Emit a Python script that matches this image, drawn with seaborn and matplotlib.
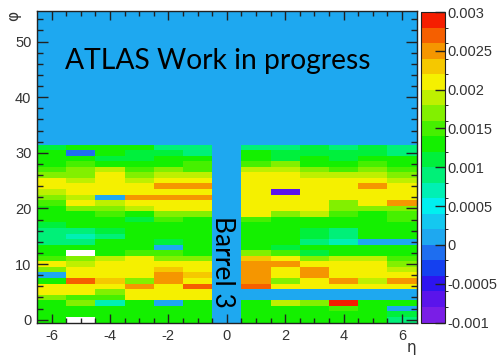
import numpy as np
import pandas as pd
import matplotlib
matplotlib.use("Agg")
import matplotlib.pyplot as plt
from matplotlib.colors import ListedColormap, BoundaryNorm
import seaborn as sns

# ---------------- data ----------------
eta = [-6, -5, -4, -3, -2, -1, 0, 1, 2, 3, 4, 5, 6]
n_phi_bins = 56          # histogram phi range 0..55
N = np.nan               # bins drawn white (outside colour range)

# values in units of 1e-4, rows phi = 0..31, columns eta = -6..6
values_e4 = [
    [13,  N, 13, 13, 13, 13, 0, 13, 13, 13, 13, 13,  9],   # phi 0
    [13, 13, 13, 13, 13, 13, 0, 13, 13, 13, 13, 13, 11],   # 1
    [13, 13, 13, 13, 13, 13, 0, 13, 13, 13, 15, 13,  1],   # 2
    [13, 17,  7, 13,  1, 13, 0, 13, 19, 17, 29, 13, 13],   # 3
    [17, 15, 15, 21, 21, 21, 0,  0,  0,  0,  0,  0,  0],   # 4
    [21, 21, 17, 21, 21, 21, 0,  0,  0,  0,  0,  0,  0],   # 5
    [21, 21, 21, 25, 21, 27, 0, 27, 21, 21, 21, 21, 21],   # 6
    [13, 27, 23, 17, 25, 21, 0, 25, 17, 21, 25, 19, 25],   # 7
    [ 1, 21, 21, 21, 25, 23, 0, 25, 21, 25, 21, 21, 21],   # 8
    [17, 21, 21, 21, 23, 21, 0, 25, 21, 25, 21, 21, 19],   # 9
    [21, 19, 21, 21, 21, 21, 0, 25, 25, 21, 21, 21, 17],   # 10
    [15, 17, 19, 21, 17, 17, 0, 23, 21, 17, 19, 19, 15],   # 11
    [13,  N, 13, 15, 15, 13, 0, 17, 15, 11, 13, 13, 13],   # 12
    [13, 13, 13, 13,  1, 13, 0, 13, 11, 13, 13, 13, 13],   # 13
    [ 9,  9, 13, 13, 11, 13, 0, 13, 13,  9,  7,  1,  1],   # 14
    [ 9,  7,  9, 13, 13, 13, 0, 13, 13, 11,  9, 13, 13],   # 15
    [ 9,  9, 11, 13, 13, 13, 0, 13, 13, 11,  9, 13, 13],   # 16
    [11, 13, 13, 13, 13, 13, 0, 13, 13, 13, 13, 13, 13],   # 17
    [13, 13, 13, 11, 15, 13, 0, 15, 13, 13, 13, 13, 15],   # 18
    [13, 13, 15, 13, 17, 17, 0, 21, 17, 19, 15, 13, 15],   # 19
    [13, 17, 17, 19, 21, 21, 0, 21, 21, 21, 17, 17, 17],   # 20
    [15, 21, 19, 21, 21, 21, 0, 21, 21, 21, 17, 21, 25],   # 21
    [17, 19,  1, 25, 25, 25, 0, 21, 21, 21, 21, 21, 21],   # 22
    [19, 21, 21, 21, 21, 21, 0, 21, -7, 21, 21, 21, 21],   # 23
    [21, 21, 21, 21, 25, 25, 0, 21, 21, 21, 21, 25, 21],   # 24
    [21, 19, 21, 19, 21, 21, 0, 21, 21, 21, 21, 21, 19],   # 25
    [17, 17, 21, 17, 19, 19, 0, 21, 21, 19, 19, 19, 17],   # 26
    [15, 17, 19, 15, 17, 15, 0, 19, 19, 17, 15, 17, 15],   # 27
    [13, 15, 13, 13, 13, 15, 0, 15, 17, 13, 13, 15, 13],   # 28
    [13, 13, 11, 11, 13, 13, 0, 13, 11, 13, 11, 13, 13],   # 29
    [13, -1, 13, 11, 11,  9, 0, 13, 11, 11, 11, 11,  9],   # 30
    [11, 13, 13, 13,  9,  9, 0,  9,  9, 11,  9, 11,  9],   # 31
]
unit = 1e-4

cbar_ticks_e4 = [-10, -5, 0, 5, 10, 15, 20, 25, 30]
cbar_labels = ["-0.001", "-0.0005", "0", "0.0005", "0.001",
               "0.0015", "0.002", "0.0025", "0.003"]
phi_ticks = [0, 10, 20, 30, 40, 50]
eta_ticks = [-6, -4, -2, 0, 2, 4, 6]

# ROOT-like 20-level palette
palette = ["#7A1EE6", "#5A14EB", "#2D14F0", "#1440F0", "#1E6EF0",
           "#1EA8F0", "#14C8F0", "#00F0F0", "#00F0B4", "#00F078",
           "#00F03C", "#14F000", "#46F000", "#82F000", "#BEF000",
           "#F5F000", "#F5C800", "#F59600", "#F55F00", "#F51E00"]

# ---------------- build table ----------------
vals = np.array(values_e4, dtype=float) * unit
full = np.vstack([vals, np.zeros((n_phi_bins - vals.shape[0], len(eta)))])
df = pd.DataFrame(full, index=np.arange(n_phi_bins), columns=eta)

bounds = np.arange(-10, 31, 2) * unit
cmap = ListedColormap(palette)
norm = BoundaryNorm(bounds, cmap.N)

# ---------------- figure ----------------
W, H = 504, 359
fig = plt.figure(figsize=(W / 100, H / 100), dpi=100)
ax = fig.add_axes([37 / W, 1 - 322.5 / H, 379.5 / W, 311.5 / H])
cax = fig.add_axes([420.5 / W, 1 - 322.5 / H, 24.5 / W, 310.5 / H])
ax.set_facecolor("white")

sns.heatmap(df, ax=ax, cbar_ax=cax, cmap=cmap, norm=norm,
            linewidths=0, xticklabels=False, yticklabels=False)

ax.invert_yaxis()  # phi increases upwards
ax.set_ylim(0, n_phi_bins)
ax.set_xlim(0, len(eta))

for s in ax.spines.values():
    s.set_visible(True)
    s.set_color("#222222")
    s.set_linewidth(1.0)

x0 = eta[0]
ax.set_xticks([e - x0 + 0.5 for e in eta_ticks])
ax.set_xticklabels([str(e) for e in eta_ticks])
ax.set_xticks(np.arange(0, len(eta) + 0.01, 0.5)[1:-1], minor=True)
ax.set_yticks([p + 0.5 for p in phi_ticks])
ax.set_yticklabels([str(p) for p in phi_ticks])
ax.set_yticks(np.arange(0.5, n_phi_bins, 2), minor=True)

tick_font = "Liberation Sans"
ax.tick_params(axis="both", which="both", direction="in", top=True, right=True,
               color="#222222", labelcolor="#333333", labelsize=10.5)
ax.tick_params(axis="y", which="major", length=8, width=1, pad=4)
ax.tick_params(axis="y", which="minor", length=4, width=1)
ax.tick_params(axis="x", which="major", length=6.5, width=1, pad=5)
ax.tick_params(axis="x", which="minor", length=3.3, width=1)
for lab in ax.get_xticklabels() + ax.get_yticklabels():
    lab.set_fontfamily(tick_font)
    lab.set_rotation(0)

ax.set_xlabel("η", fontsize=11, color="#333333", loc="right")
ax.xaxis.set_label_coords(1.0, -0.055)
ax.set_ylabel("φ", fontsize=11, color="#333333", loc="top")
ax.yaxis.set_label_coords(-0.042, 1.0)

# colorbar
cb = ax.collections[0].colorbar
cb.outline.set_visible(True)
cb.outline.set_linewidth(0.8)
cb.outline.set_edgecolor("#222222")
cb.set_ticks([t * unit for t in cbar_ticks_e4])
cb.set_ticklabels(cbar_labels)
cax.tick_params(axis="y", direction="in", length=7, width=1, color="#222222",
                labelcolor="#333333", labelsize=10.5, pad=2, right=True, left=False)
for lab in cax.get_yticklabels():
    lab.set_fontfamily(tick_font)

# annotations
ax.text(0.074, 0.814, "ATLAS Work in progress", transform=ax.transAxes,
        fontsize=20.3, fontfamily="Lato", color="black", ha="left", va="baseline")
ax.text(0.489, 0.194, "Barrel 3", transform=ax.transAxes, rotation=-90,
        fontsize=19, fontfamily="Lato", color="black", ha="center", va="center")

fig.savefig("out.png", dpi=100)
